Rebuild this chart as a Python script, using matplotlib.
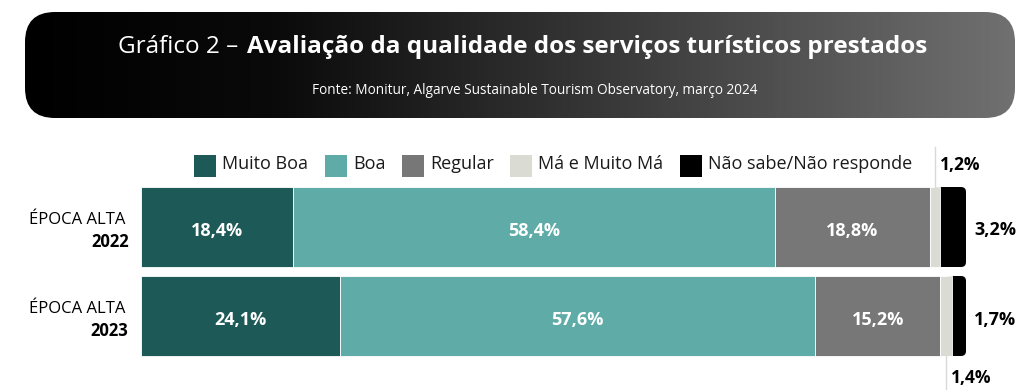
#!/usr/bin/env python3
"""Gráfico 2 - Avaliação da qualidade dos serviços turísticos prestados."""

import matplotlib.pyplot as plt
import numpy as np
from matplotlib.colors import LinearSegmentedColormap
from matplotlib.patches import FancyBboxPatch, Rectangle

plt.rcParams["font.family"] = ["Open Sans", "DejaVu Sans"]

# data
years = ["2022", "2023"]
season = "ÉPOCA ALTA"
series_names = ["Muito Boa", "Boa", "Regular", "Má e Muito Má", "Não sabe/Não responde"]
muito_boa = [18.4, 24.1]
boa = [58.4, 57.6]
regular = [18.8, 15.2]
ma_muito_ma = [1.2, 1.4]
nao_sabe = [3.2, 1.7]

colors = ["#1d5a57", "#5eaba7", "#777777", "#dadcd3", "#000000"]


def pct(v):
    return f"{v:.1f}%".replace(".", ",")


W, H = 1035, 390
fig = plt.figure(figsize=(W / 100, H / 100), dpi=100, facecolor="white")

# background / header in pixel coordinates
bg = fig.add_axes([0, 0, 1, 1], zorder=-1)
bg.set_xlim(0, W)
bg.set_ylim(H, 0)
bg.axis("off")

box = FancyBboxPatch((25, 12), 990, 106, boxstyle="round,pad=0,rounding_size=30",
                     facecolor="none", edgecolor="none")
bg.add_patch(box)
cmap = LinearSegmentedColormap.from_list(
    "hdr", [(0, "#000000"), (0.25, "#0a0a0a"), (1, "#707070")])
grad = bg.imshow(np.linspace(0, 1, 256).reshape(1, -1), cmap=cmap, aspect="auto",
                 extent=(25, 1015, 118, 12), interpolation="bicubic")
grad.set_clip_path(box)

bg.text(238, 47, "Gráfico 2 –", color="white", fontsize=17.5, ha="right", va="center")
bg.text(247, 47, "Avaliação da qualidade dos serviços turísticos prestados",
        color="white", fontsize=17.5, fontweight="bold", ha="left", va="center")
bg.text(535, 90, "Fonte: Monitur, Algarve Sustainable Tourism Observatory, março 2024",
        color="white", fontsize=9.8, ha="center", va="center")

# legend
legend_x = [194, 325, 402, 510, 680]
for name, col, lx in zip(series_names, colors, legend_x):
    bg.add_patch(Rectangle((lx, 155), 22, 22, facecolor=col, edgecolor="none"))
    bg.text(lx + 28, 164, name, fontsize=13, ha="left", va="center", color="#1a1a1a")

# bars
ax = fig.add_axes([141 / W, (H - 360.5) / H, 825 / W, 178 / H])
ax.set_xlim(0, 100)
ax.set_ylim(1.5, -0.5)
ax.axis("off")

y = np.arange(len(years))
bar_h = 80 / 89
series = [muito_boa, boa, regular, ma_muito_ma, nao_sabe]
left = np.zeros(len(years))
m_aspect = (825 / 100) / 89

for i, (vals, col) in enumerate(zip(series, colors)):
    vals = np.array(vals)
    if i == len(series) - 1:
        # last segment with rounded right end, tucked under the previous one
        for yi, l, v in zip(y, left, vals):
            ax.add_patch(FancyBboxPatch((l - 0.8, yi - bar_h / 2), v + 0.8, bar_h,
                                        boxstyle="round,pad=0,rounding_size=0.6",
                                        mutation_aspect=m_aspect, facecolor=col,
                                        edgecolor="none", zorder=1))
    else:
        ax.barh(y, vals, left=left, height=bar_h, color=col, edgecolor="white",
                linewidth=0.6, zorder=2)
        if i < 3:
            for yi, l, v in zip(y, left, vals):
                ax.text(l + v / 2, yi + 0.04, pct(v), color="white",
                        fontsize=13, fontweight="bold", ha="center", va="center")
    if i == 3:
        ma_centers = left + vals / 2
    left = left + vals

# outside labels
ax.text(101.0, 0.03, pct(nao_sabe[0]), fontsize=13, fontweight="bold",
        ha="left", va="center", clip_on=False)
ax.text(101.0, 1.05, pct(nao_sabe[1]), fontsize=13, fontweight="bold",
        ha="left", va="center", clip_on=False)

# leader lines for the small "Má e Muito Má" segments
ax.plot([ma_centers[0]] * 2, [-0.45, -0.9], color="#d9d9d9", lw=1, clip_on=False)
ax.text(ma_centers[0] + 0.6, -0.7, pct(ma_muito_ma[0]),
        fontsize=12.5, fontweight="bold", ha="left", va="center", clip_on=False)
ax.plot([ma_centers[1]] * 2, [1.45, 1.9], color="#d9d9d9", lw=1, clip_on=False)
ax.text(ma_centers[1] + 0.6, 1.7, pct(ma_muito_ma[1]),
        fontsize=12.5, fontweight="bold", ha="left", va="center", clip_on=False)

# category labels
for yi, yr in zip(y, years):
    ax.text(-1.9, yi - 0.08, season, fontsize=12, ha="right", va="center", clip_on=False)
    ax.text(-1.5, yi + 0.17, yr, fontsize=12, fontweight="bold", ha="right",
            va="center", clip_on=False)

fig.savefig("out.png", dpi=100, facecolor="white")
